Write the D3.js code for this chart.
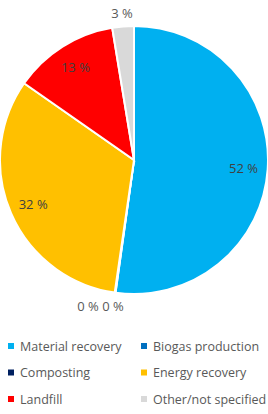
<!DOCTYPE html>
<html>
<head>
<meta charset="utf-8">
<script src="https://cdn.jsdelivr.net/npm/d3@7"></script>
<style>
  body { margin: 0; background: #fff; }
  text { font-family: "Open Sans", "Noto Sans", sans-serif; }
</style>
</head>
<body>
<svg id="chart" width="268" height="414"></svg>
<script>
// data
const categories = ["Material recovery", "Biogas production", "Composting", "Energy recovery", "Landfill", "Other/not specified"]
const values = [52.2, 0.05, 0.05, 32.4, 12.7, 2.6]
const labels = ["52 %", "0 %", "0 %", "32 %", "13 %", "3 %"]
const colors = ["#00B0F0", "#0070C0", "#002060", "#FFC000", "#FF0000", "#D9D9D9"]

const data = categories.map((c, i) => ({ cat: c, value: values[i], label: labels[i], color: colors[i] }))

const svg = d3.select('#chart')
const cx = 134, cy = 160, R = 134

const pie = d3.pie().sort(null).value(d => d.value)
const arcs = pie(data)

const arc = d3.arc().innerRadius(0).outerRadius(R)
const inArc = d3.arc().innerRadius(R * 0.82).outerRadius(R * 0.82)
const outArc = d3.arc().innerRadius(R * 1.1).outerRadius(R * 1.1)

const g = svg.append('g').attr('transform', `translate(${cx},${cy})`)

g.selectAll('path')
  .data(arcs)
  .enter()
  .append('path')
  .attr('d', arc)
  .style('fill', d => d.data.color)
  .style('stroke', '#fff')
  .style('stroke-width', 2)

// labels: big slices inside, small ones outside
const labelPos = arcs.map(d => {
  const inside = d.data.value > 5
  const p = inside ? inArc.centroid(d) : outArc.centroid(d)
  return { x: p[0], y: p[1], inside: inside, d: d }
})
// push overlapping outside labels apart
for (let i = 1; i < labelPos.length; i++) {
  const a = labelPos[i - 1], b = labelPos[i]
  if (!a.inside && !b.inside && Math.abs(a.x - b.x) < 24 && Math.abs(a.y - b.y) < 12) {
    a.x = b.x - 25
  }
}

g.selectAll('.lbl')
  .data(labelPos)
  .enter()
  .append('text')
  .attr('class', 'lbl')
  .attr('x', d => d.x)
  .attr('y', d => d.y)
  .attr('text-anchor', 'middle')
  .attr('dominant-baseline', 'central')
  .style('font-size', '13px')
  .style('fill', d => d.inside ? '#404040' : '#595959')
  .text(d => d.d.data.label)

// legend
const legend = svg.selectAll('.legend')
  .data(data)
  .enter()
  .append('g')
  .attr('class', 'legend')
  .attr('transform', (d, i) => `translate(${(i % 2) * 133 + 8},${Math.floor(i / 2) * 26.5 + 346})`)

legend.append('rect')
  .attr('x', 0)
  .attr('y', -3)
  .attr('width', 6)
  .attr('height', 6)
  .style('fill', d => d.color)

legend.append('text')
  .attr('x', 12)
  .attr('y', 0)
  .attr('dominant-baseline', 'central')
  .style('font-size', '12.5px')
  .style('fill', '#595959')
  .text(d => d.cat)
</script>
</body>
</html>
